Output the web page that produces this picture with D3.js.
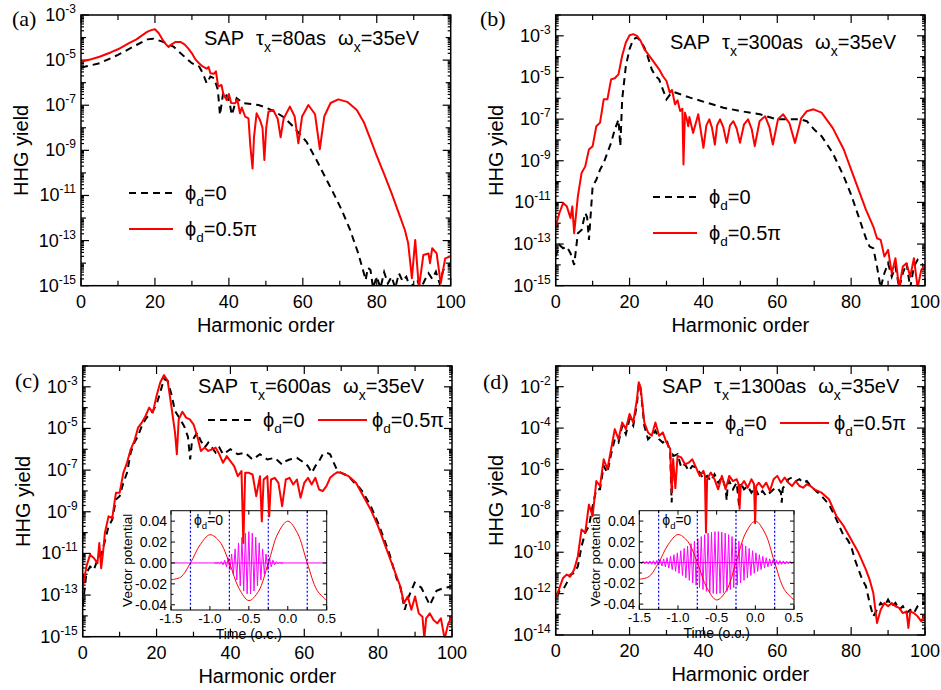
<!DOCTYPE html>
<html>
<head>
<meta charset="utf-8">
<script src="https://cdn.jsdelivr.net/npm/d3@7"></script>
<style>
  body { margin: 0; background: #fff; }
  text { font-family: "Liberation Sans", Arial, sans-serif; fill: #000; }
</style>
</head>
<body>
<script>
// HHG spectra, values are [harmonic order, log10(yield)]
const redA = [[0,-5.07],[3,-4.95],[5,-4.85],[8,-4.66],[10,-4.52],[13,-4.25],[15,-4.08],[17,-3.85],[18,-3.74],[19,-3.67],[20,-3.63],[21,-3.8],[22,-4.08],[23,-4.3],[23.7,-4.42],[24.5,-4.3],[25.5,-4.2],[27,-4.2],[28,-4.3],[29,-4.48],[30,-4.7],[31,-4.98],[32,-5.15],[33,-5.29],[34,-5.38],[34.5,-5.3],[35,-5.58],[36,-5.6],[36.5,-5.5],[37.1,-6.18],[38,-6.1],[38.5,-6.5],[39.4,-6.77],[40,-6.5],[40.6,-6.9],[41.7,-6.91],[42.3,-6.75],[43,-7.36],[43.5,-7.1],[44.4,-7.5],[45.3,-7.58],[45.8,-8.8],[46.4,-9.8],[46.8,-8.4],[47.5,-7.36],[48.4,-7.65],[49.1,-8.0],[49.6,-9.43],[50.1,-8.0],[50.7,-7.29],[52,-7.21],[53.2,-7.6],[54,-8.42],[54.8,-7.6],[56.5,-7.06],[57.8,-7.5],[58.8,-8.69],[59.8,-7.5],[61.5,-6.99],[63.3,-7.4],[64.6,-8.95],[65.8,-7.5],[67.5,-6.9],[69.6,-6.74],[72,-6.85],[74.6,-7.21],[76.5,-7.75],[78.2,-8.47],[80,-9.25],[82,-10.05],[84,-10.9],[86.3,-11.94],[87.6,-12.53],[88.5,-13.12],[89.5,-14.67],[90.4,-12.97],[91.4,-15.1],[92.6,-13.64],[94,-13.57],[94.4,-14.0],[95,-13.34],[96.2,-13.57],[97.3,-14.9],[98.5,-13.79],[100,-13.7]];
const blackA = [[0,-5.33],[5,-5.14],[10,-4.77],[15,-4.33],[18,-4.08],[19.5,-4.05],[22,-4.18],[25,-4.4],[28,-4.85],[30,-5.14],[32,-5.29],[33,-5.6],[34,-6.03],[35,-5.73],[36,-5.8],[37,-6.3],[37.6,-7.43],[38.5,-6.4],[39.5,-6.6],[40.2,-6.9],[40.8,-7.43],[42.1,-6.69],[43.9,-6.91],[46,-6.95],[48,-6.99],[50,-7.1],[52.5,-7.29],[55,-7.55],[57.4,-7.95],[59,-8.25],[61,-8.62],[63.7,-9.43],[66,-10.17],[68.3,-10.9],[70.5,-11.64],[72.8,-12.53],[75,-13.57],[76.4,-14.38],[77,-14.75],[77.6,-14.2],[78.3,-14.3],[79,-15.1],[80,-14.6],[81,-15.1],[82,-14.4],[83,-14.9],[84,-14.6],[85,-15.1],[86,-14.45],[87,-14.8],[88,-14.6],[89,-15.1],[90,-14.9],[91,-14.8],[92,-15.1],[93,-14.75],[94,-14.45],[95,-14.7],[96,-14.38],[97,-14.9],[98,-14.3],[99,-14.2],[100,-14.0]];

const redB = [[0,-12.16],[1,-11.51],[2,-11.03],[3,-11.19],[4,-11.75],[4.5,-11.19],[5,-12.48],[6,-10.71],[7,-9.59],[8,-9.27],[9,-8.46],[10,-8.3],[11,-7.34],[12,-7.18],[13,-6.05],[14,-6.05],[15,-5.09],[16,-5.04],[17,-4.85],[18,-3.96],[19,-3.32],[20,-2.97],[21,-2.92],[22,-3.0],[23,-3.24],[24,-3.64],[26,-4.12],[28,-4.61],[29,-4.93],[30,-5.17],[30.9,-5.73],[31.5,-5.6],[32.3,-6.29],[33,-6.1],[33.7,-6.61],[34.3,-6.5],[34.6,-9.18],[35,-6.69],[35.5,-7.0],[35.9,-7.34],[36.2,-6.9],[37.2,-7.66],[38.6,-6.77],[40,-8.38],[40.8,-7.3],[41.6,-7.01],[42.3,-7.4],[43.1,-8.22],[43.7,-7.3],[44.5,-7.01],[45.4,-7.4],[46.3,-8.14],[47.2,-7.3],[48.1,-7.1],[49,-7.45],[49.9,-8.14],[51,-7.25],[52.1,-7.01],[53.1,-7.5],[53.9,-8.3],[55.2,-7.1],[56.7,-6.86],[57.9,-7.4],[58.8,-8.22],[60.2,-7.0],[61.6,-6.77],[63.3,-7.2],[64.8,-8.14],[66.5,-6.95],[68,-6.62],[69.8,-6.53],[72,-6.69],[75,-7.42],[78,-8.46],[80,-9.43],[82,-10.39],[84,-11.35],[86,-12.16],[87,-12.72],[88,-12.8],[89,-13.6],[90,-13.28],[91,-14.4],[92,-13.68],[93,-15.1],[94,-14.08],[95,-13.92],[96,-14.57],[97,-13.68],[98,-15.1],[99,-14.24],[100,-14.0]];
const blackB = [[0,-13.6],[1,-13.04],[2,-13.2],[3,-13.12],[4,-13.44],[5,-14.0],[6,-12.48],[7,-12.32],[8,-11.51],[8.5,-11.7],[9,-12.8],[10,-10.23],[11,-9.91],[12,-9.43],[13,-9.1],[14,-8.62],[15,-8.14],[16,-7.5],[17,-7.02],[17.5,-8.3],[18,-6.05],[19,-4.45],[20,-3.64],[21,-3.16],[22,-3.08],[23,-3.24],[24,-3.56],[25,-4.04],[26,-4.61],[27,-4.93],[28,-5.09],[29,-5.57],[30,-6.05],[31,-5.81],[32,-5.7],[36.4,-5.97],[40.9,-6.21],[45.4,-6.45],[49.9,-6.61],[55.3,-6.77],[59.8,-7.01],[64.3,-7.01],[66,-7.0],[68,-7.1],[70,-7.5],[72,-7.82],[75,-8.62],[78,-9.75],[80,-10.63],[82,-11.67],[84,-12.72],[85,-13.12],[86,-13.2],[87,-14.08],[88,-15.1],[89,-14.4],[90,-13.92],[91,-14.57],[92,-14.08],[93,-15.1],[94,-14.4],[95,-13.92],[96,-15.1],[97,-14.08],[98,-13.76],[99,-13.92],[100,-14.08]];

const redC = [[0,-12.67],[1,-11.63],[2,-11.06],[3,-11.22],[4,-11.47],[4.5,-10.5],[5,-11.71],[5.5,-10.98],[6,-10.02],[7,-9.22],[8,-9.3],[9,-8.09],[10,-8.09],[11,-7.13],[12,-6.65],[13,-6.0],[14,-5.6],[15,-4.96],[16,-4.72],[17,-4.4],[18,-4.0],[19,-4.24],[20,-3.43],[21,-2.79],[22,-2.44],[23,-2.71],[24,-3.92],[25,-5.2],[25.5,-6.24],[26,-4.56],[27,-4.2],[28,-4.48],[29,-4.56],[30,-4.8],[31,-5.36],[32,-6.08],[33,-5.92],[34,-6.08],[35,-6.0],[36,-5.92],[37,-6.24],[38,-6.65],[39,-6.33],[40,-6.57],[41,-6.81],[42,-7.29],[43,-7.05],[43.5,-10.5],[44,-7.13],[45,-7.13],[46,-7.21],[47,-8.25],[48,-7.29],[48.5,-9.46],[49,-7.45],[50,-7.29],[50.5,-9.22],[51,-7.45],[52,-7.37],[53,-7.61],[54,-8.73],[55,-7.45],[56,-7.37],[57,-7.69],[58,-7.45],[59,-8.33],[60,-7.61],[61,-7.37],[62,-7.69],[63,-7.37],[64,-7.93],[65,-8.01],[66,-7.77],[67,-7.37],[68,-7.21],[69,-7.1],[70,-7.13],[71,-7.21],[72,-7.29],[74,-7.61],[76,-8.25],[78,-8.9],[80,-9.7],[82,-10.66],[84,-11.63],[85,-12.1],[86,-12.59],[87,-13.39],[88,-13.07],[89,-13.71],[90,-13.07],[91,-13.88],[92,-14.04],[92.5,-15.1],[93,-14.12],[94,-13.88],[95,-14.2],[96,-14.36],[97,-14.12],[98,-15.1],[99,-14.36],[100,-14.04]];
const blackC = [[0,-13.55],[1,-11.95],[2,-11.63],[3,-11.79],[4,-11.31],[5,-11.06],[6,-10.42],[7,-9.7],[8,-9.38],[9,-8.41],[10,-8.25],[11,-7.61],[12,-7.13],[13,-6.16],[14,-5.68],[15,-5.36],[16,-4.88],[17,-4.56],[18,-4.32],[19,-4.16],[20,-3.84],[21,-3.27],[22,-2.63],[23,-2.71],[24,-3.35],[25,-4.16],[26.4,-4.56],[27.5,-4.9],[28.5,-5.4],[29.1,-6.48],[29.6,-5.6],[31,-5.2],[32,-5.6],[33,-5.92],[34,-5.68],[35,-5.92],[36,-6.16],[37,-5.92],[38,-6.24],[40,-6.0],[42,-6.24],[44,-6.16],[46,-6.49],[48,-6.24],[50,-6.49],[52,-6.41],[54,-6.73],[55,-6.57],[56,-6.49],[58,-6.41],[60,-6.65],[61,-6.81],[62,-7.13],[63,-6.81],[64,-6.57],[65,-6.24],[66,-6.16],[67,-6.24],[68,-6.65],[69,-7.05],[70,-7.13],[72,-7.29],[74,-7.69],[75,-7.85],[76,-8.09],[78,-8.73],[80,-9.54],[82,-10.5],[83,-10.98],[84,-11.6],[85,-12.2],[86,-12.6],[87.2,-13.71],[88,-13.2],[89.9,-12.4],[91.7,-12.65],[94,-13.48],[95.8,-12.8],[97.6,-12.67],[100,-12.59]];

const redD = [[0,-12.21],[1,-11.73],[2,-11.24],[3,-11.08],[4,-11.16],[5,-10.84],[6,-10.19],[7,-8.9],[8,-9.06],[9,-7.69],[10,-8.25],[11,-6.56],[12,-6.8],[13,-5.51],[14,-5.99],[15,-5.02],[16,-4.05],[17,-4.54],[18,-3.73],[19,-4.05],[20,-3.32],[21,-3.73],[22,-2.6],[22.5,-1.79],[23,-2.03],[24,-3.73],[25,-4.21],[26,-4.37],[27,-3.73],[28,-4.37],[29,-4.21],[30,-4.7],[31,-5.0],[31.4,-7.1],[31.8,-5.5],[32.4,-6.9],[33,-5.34],[34,-5.42],[35,-5.75],[36,-5.67],[37,-5.51],[38,-5.91],[39,-6.31],[40,-6.07],[40.4,-6.3],[40.7,-9.05],[41,-6.47],[42,-6.15],[43,-6.47],[44,-6.96],[45,-6.31],[46,-6.96],[47,-6.31],[48,-6.56],[49,-6.47],[49.5,-6.7],[49.8,-7.9],[50.1,-6.8],[51,-6.56],[52,-6.88],[53,-6.47],[53.7,-6.7],[54,-8.6],[54.3,-6.8],[55,-6.64],[56,-6.88],[57,-6.64],[58,-7.04],[59,-6.47],[60,-6.31],[61,-6.64],[62,-6.39],[63,-6.64],[64,-6.8],[65,-6.56],[66,-6.8],[67,-6.88],[68,-6.72],[69,-6.8],[70,-6.96],[72,-7.12],[74,-7.44],[76,-8.25],[78,-8.74],[80,-9.38],[82,-10.03],[84,-10.84],[85,-11.32],[86,-11.97],[87,-13.42],[88,-12.78],[89,-12.45],[90,-12.61],[91,-12.45],[92,-12.61],[93,-12.69],[94,-12.94],[95,-12.86],[95.5,-13.66],[96,-12.86],[97,-12.94],[98,-13.1],[99,-13.34],[100,-13.02]];
const blackD = [[0,-12.13],[1,-11.89],[2,-11.81],[3,-11.48],[4,-11.08],[5,-11.0],[6,-10.68],[7,-9.71],[8,-9.06],[9,-8.74],[10,-7.77],[11,-6.96],[12,-6.96],[13,-5.83],[14,-6.15],[15,-5.26],[16,-4.54],[17,-4.7],[18,-3.89],[19,-4.29],[20,-3.57],[21,-3.89],[22,-2.84],[22.5,-1.87],[23,-2.11],[24,-3.89],[25,-4.54],[26,-4.37],[27,-4.13],[28,-4.54],[29,-4.7],[30,-4.54],[31,-5.18],[31.4,-7.6],[31.8,-5.3],[32,-5.34],[33,-5.26],[34,-5.91],[35,-5.75],[36,-6.07],[37,-5.83],[38,-5.91],[39,-6.15],[40,-6.47],[41,-6.31],[42,-6.56],[43,-6.23],[44,-6.64],[45,-6.39],[46,-6.88],[46.3,-7.5],[46.6,-6.7],[47,-6.56],[48,-6.96],[49,-6.64],[49.7,-7.8],[50,-6.64],[51,-6.96],[52,-6.8],[53,-7.12],[54,-6.88],[55,-7.28],[56,-7.04],[57,-7.28],[58,-7.12],[59,-6.96],[60,-6.88],[61,-7.12],[61.2,-7.6],[61.5,-6.9],[62,-6.8],[63,-6.47],[64,-6.39],[65,-6.56],[66,-6.47],[67,-6.64],[68,-6.56],[69,-6.8],[70,-6.96],[71,-7.12],[72,-7.28],[74,-7.69],[76,-8.41],[78,-9.22],[79,-9.38],[80,-9.71],[81,-10.35],[82,-10.84],[83,-11.32],[84,-11.64],[85,-12.45],[86,-13.1],[87,-12.78],[88,-12.45],[89,-12.61],[90,-12.29],[91,-12.61],[92,-12.45],[93,-12.78],[94,-12.61],[95,-12.94],[96,-12.78],[97,-12.94],[98,-12.61],[99,-12.45],[100,-12.45]];

// inset: IR vector potential (o.c., a.u.)
const irTime = [-1.5,-1.375,-1.25,-1.125,-1.0,-0.875,-0.75,-0.625,-0.5,-0.375,-0.25,-0.125,0,0.125,0.25,0.375,0.5];
const irA = [-0.016,-0.0135,0,0.0175,0.027,0.0205,0,-0.0245,-0.036,-0.027,0,0.0285,0.040,0.0285,0,-0.026,-0.036];
const zeroCross = [-1.25,-0.75,-0.25,0.25];

// inset: XUV pulse, amplitude of each half-cycle extremum
const xuvHalfPeriod = 0.0221;
const xuvStartC = -0.942;
const xuvAmpC = [0.0002,0.0003,0.0005,0.0008,0.0012,0.0018,0.0026,0.0037,0.005,0.0067,0.0086,0.011,0.0135,0.0163,0.0192,0.022,0.0246,0.0268,0.0285,0.0296,0.03,0.0296,0.0285,0.0268,0.0246,0.022,0.0192,0.0163,0.0135,0.011,0.0086,0.0067,0.005,0.0037,0.0026,0.0018,0.0012,0.0008,0.0005,0.0003,0.0002];
const xuvStartD = -1.4945;
const xuvAmpD = [0.001,0.0011,0.0012,0.0013,0.0014,0.0015,0.0016,0.0017,0.0018,0.0019,0.0021,0.0024,0.0027,0.0032,0.0036,0.0041,0.0047,0.0053,0.006,0.0068,0.0076,0.0084,0.0094,0.0103,0.0114,0.0124,0.0136,0.0147,0.0159,0.0171,0.0183,0.0195,0.0207,0.0218,0.023,0.0241,0.0251,0.026,0.0269,0.0277,0.0284,0.029,0.0294,0.0297,0.0299,0.03,0.0299,0.0297,0.0294,0.029,0.0284,0.0277,0.0269,0.026,0.0251,0.0241,0.023,0.0218,0.0207,0.0195,0.0183,0.0171,0.0159,0.0147,0.0136,0.0124,0.0114,0.0103,0.0094,0.0084,0.0076,0.0068,0.006,0.0053,0.0047,0.0041,0.0036,0.0032,0.0027,0.0024,0.0021,0.0019,0.0018,0.0017,0.0016,0.0015,0.0014,0.0013,0.0012,0.0011,0.001];

const harmTicks = [0, 20, 40, 60, 80, 100];
const harmMinor = [10, 30, 50, 70, 90];
const timeTicks = [-1.5, -1.0, -0.5, 0.0, 0.5];
const timeMinor = [-1.25, -0.75, -0.25, 0.25];
const aTicks = [0.04, 0.02, 0.00, -0.02, -0.04];
const aMinor = [0.03, 0.01, -0.01, -0.03];

const panels = [
    {key: 'a', red: redA, black: blackA, decades: [-15, -3], tau: '80',
     box: {l: 81, r: 450.7, t: 15, b: 285.7}, tag: [12, 26], anno: [204, 45],
     legend: {kind: 'col', x: 129, y: 193}},
    {key: 'b', red: redB, black: blackB, decades: [-15, -2], tau: '300',
     box: {l: 555.7, r: 925, t: 15, b: 285.7}, tag: [480, 26], anno: [670, 49],
     legend: {kind: 'col', x: 653, y: 197}},
    {key: 'c', red: redC, black: blackC, decades: [-15, -2], tau: '600',
     box: {l: 82.7, r: 452, t: 366, b: 636.7}, tag: [15, 388], anno: [198, 393],
     legend: {kind: 'row', x: 208, x2: 318, y: 420},
     inset: {l: 171, r: 326.7, t: 510.7, b: 610, amp: xuvAmpC, start: xuvStartC}},
    {key: 'd', red: redD, black: blackD, decades: [-14, -1], tau: '1300',
     box: {l: 555.7, r: 925, t: 366, b: 635}, tag: [483, 389], anno: [662, 393],
     legend: {kind: 'row', x: 670, x2: 780, y: 423},
     inset: {l: 639.3, r: 794, t: 510.7, b: 609.3, amp: xuvAmpD, start: xuvStartD}}
];

const PHI = '\u03d5';

const svg = d3.select('body').append('svg')
    .attr('width', 941)
    .attr('height', 690);

// phi_d = value, written with a subscript d
function phiLabel(sel, value, size) {
    const t = sel.append('text').attr('font-size', size);
    t.append('tspan').text(PHI);
    t.append('tspan').attr('dy', size * 0.3).attr('font-size', size * 0.68).text('d');
    t.append('tspan').attr('dy', -size * 0.3).text('=' + value);
    return t;
}

function drawInset(g, ins, key) {
    const x = d3.scaleLinear().domain([-1.5, 0.5]).range([ins.l, ins.r]);
    const y = d3.scaleLinear().domain([-0.045, 0.05]).range([ins.b, ins.t]);

    const cid = 'clipInset' + key;
    g.append('clipPath').attr('id', cid)
        .append('rect').attr('x', ins.l).attr('y', ins.t)
        .attr('width', ins.r - ins.l).attr('height', ins.b - ins.t);
    const plot = g.append('g').attr('clip-path', `url(#${cid})`);

    // zero line + xuv pulse
    plot.append('line')
        .attr('x1', ins.l).attr('x2', ins.r)
        .attr('y1', y(0)).attr('y2', y(0))
        .attr('stroke', '#ff00ff').attr('stroke-width', 1);

    const xuvPts = ins.amp.map((a, i) => [ins.start + i * xuvHalfPeriod, i % 2 === 0 ? a : -a]);
    plot.append('path')
        .datum(xuvPts)
        .attr('fill', 'none')
        .attr('stroke', '#ff00ff')
        .attr('stroke-width', 1)
        .attr('d', d3.line().x(d => x(d[0])).y(d => y(d[1])));

    // IR vector potential
    plot.append('path')
        .datum(irTime.map((t, i) => [t, irA[i]]))
        .attr('fill', 'none')
        .attr('stroke', '#ff0000')
        .attr('stroke-width', 1)
        .attr('d', d3.line().curve(d3.curveCatmullRom).x(d => x(d[0])).y(d => y(d[1])));

    g.selectAll(null)
        .data(zeroCross)
        .enter().append('line')
        .attr('x1', d => x(d)).attr('x2', d => x(d))
        .attr('y1', ins.t).attr('y2', ins.b)
        .attr('stroke', '#0000ff')
        .attr('stroke-width', 1.2)
        .attr('stroke-dasharray', '2,2');

    // frame and ticks
    g.append('rect')
        .attr('x', ins.l).attr('y', ins.t)
        .attr('width', ins.r - ins.l).attr('height', ins.b - ins.t)
        .attr('fill', 'none').attr('stroke', '#000').attr('stroke-width', 1);

    const tk = g.append('g').attr('stroke', '#000').attr('stroke-width', 1);
    timeTicks.concat(timeMinor).forEach((t, i) => {
        const len = i < timeTicks.length ? 4 : 2.5;
        tk.append('line').attr('x1', x(t)).attr('x2', x(t)).attr('y1', ins.b).attr('y2', ins.b - len);
        tk.append('line').attr('x1', x(t)).attr('x2', x(t)).attr('y1', ins.t).attr('y2', ins.t + len);
    });
    aTicks.concat(aMinor).forEach((a, i) => {
        const len = i < aTicks.length ? 4 : 2.5;
        tk.append('line').attr('x1', ins.l).attr('x2', ins.l + len).attr('y1', y(a)).attr('y2', y(a));
        tk.append('line').attr('x1', ins.r).attr('x2', ins.r - len).attr('y1', y(a)).attr('y2', y(a));
    });

    g.selectAll(null)
        .data(timeTicks)
        .enter().append('text')
        .attr('x', d => x(d)).attr('y', ins.b + 13)
        .attr('text-anchor', 'middle')
        .attr('font-size', 13.5)
        .text(d => d3.format('.1f')(d).replace('\u2212', '-'));

    g.selectAll(null)
        .data(aTicks)
        .enter().append('text')
        .attr('x', ins.l - 4).attr('y', d => y(d) + 5)
        .attr('text-anchor', 'end')
        .attr('font-size', 14)
        .text(d => d3.format('.2f')(d).replace('\u2212', '-'));

    g.append('text')
        .attr('x', (ins.l + ins.r) / 2).attr('y', ins.b + 28.5)
        .attr('text-anchor', 'middle')
        .attr('font-size', 14)
        .text('Time (o.c.)');

    g.append('text')
        .attr('transform', `translate(${ins.l - 39},${(ins.t + ins.b) / 2}) rotate(-90)`)
        .attr('text-anchor', 'middle')
        .attr('font-size', 13.5)
        .text('Vector potential');

    phiLabel(g, '0', 14).attr('x', ins.l + 23).attr('y', ins.t + 14);
}

function drawPanel(p) {
    const b = p.box;
    const g = svg.append('g');
    const x = d3.scaleLinear().domain([0, 100]).range([b.l, b.r]);
    const y = d3.scaleLog()
        .domain([Math.pow(10, p.decades[0]), Math.pow(10, p.decades[1])])
        .range([b.b, b.t]);

    // ticks, all pointing inward
    const tk = g.append('g').attr('stroke', '#000').attr('stroke-width', 1.2);
    harmTicks.concat(harmMinor).forEach((h, i) => {
        const len = i < harmTicks.length ? 8 : 5;
        tk.append('line').attr('x1', x(h)).attr('x2', x(h)).attr('y1', b.b).attr('y2', b.b - len);
        tk.append('line').attr('x1', x(h)).attr('x2', x(h)).attr('y1', b.t).attr('y2', b.t + len);
    });
    for (let e = p.decades[0]; e <= p.decades[1]; e++) {
        const major = (e - p.decades[0]) % 2 === 0;
        const len = major ? 8 : 5;
        const yy = y(Math.pow(10, e));
        tk.append('line').attr('x1', b.l).attr('x2', b.l + len).attr('y1', yy).attr('y2', yy);
        tk.append('line').attr('x1', b.r).attr('x2', b.r - len).attr('y1', yy).attr('y2', yy);
        if (e < p.decades[1]) {
            for (let m = 2; m <= 9; m++) {
                const ym = y(m * Math.pow(10, e));
                tk.append('line').attr('x1', b.l).attr('x2', b.l + 3).attr('y1', ym).attr('y2', ym);
                tk.append('line').attr('x1', b.r).attr('x2', b.r - 3).attr('y1', ym).attr('y2', ym);
            }
        }
        if (major) {
            const t = g.append('text')
                .attr('x', b.l - 5).attr('y', yy + 6)
                .attr('text-anchor', 'end')
                .attr('font-size', 18)
                .text('10');
            t.append('tspan').attr('dy', -8).attr('font-size', 12).text(String(e));
        }
    }

    g.selectAll(null)
        .data(harmTicks)
        .enter().append('text')
        .attr('x', d => x(d)).attr('y', b.b + 22)
        .attr('text-anchor', 'middle')
        .attr('font-size', 18)
        .text(d => d);

    g.append('text')
        .attr('x', (b.l + b.r) / 2).attr('y', b.b + 46)
        .attr('text-anchor', 'middle')
        .attr('font-size', 20)
        .text('Harmonic order');

    g.append('text')
        .attr('transform', `translate(${b.l - 53},${(b.t + b.b) / 2}) rotate(-90)`)
        .attr('text-anchor', 'middle')
        .attr('font-size', 20)
        .text('HHG yield');

    g.append('text')
        .attr('x', p.tag[0]).attr('y', p.tag[1])
        .attr('font-size', 22)
        .style('font-family', '"Liberation Serif", "Times New Roman", serif')
        .text('(' + p.key + ')');

    if (p.inset) drawInset(g, p.inset, p.key);

    // spectra
    g.append('clipPath').attr('id', 'clip' + p.key)
        .append('rect').attr('x', b.l).attr('y', b.t)
        .attr('width', b.r - b.l).attr('height', b.b - b.t);
    const plot = g.append('g').attr('clip-path', `url(#clip${p.key})`);
    const line = d3.line()
        .x(d => x(d[0]))
        .y(d => y(Math.pow(10, d[1])));

    plot.append('path')
        .datum(p.black)
        .attr('fill', 'none')
        .attr('stroke', '#000')
        .attr('stroke-width', 2)
        .attr('stroke-dasharray', '7,5')
        .attr('d', line);

    plot.append('path')
        .datum(p.red)
        .attr('fill', 'none')
        .attr('stroke', '#ff0000')
        .attr('stroke-width', 2)
        .attr('stroke-linejoin', 'round')
        .attr('d', line);

    g.append('rect')
        .attr('x', b.l).attr('y', b.t)
        .attr('width', b.r - b.l).attr('height', b.b - b.t)
        .attr('fill', 'none').attr('stroke', '#000').attr('stroke-width', 1.5);

    // SAP annotation
    const an = g.append('text')
        .attr('x', p.anno[0]).attr('y', p.anno[1])
        .attr('font-size', 20);
    an.append('tspan').text('SAP');
    an.append('tspan').attr('dx', 12).text('\u03c4');
    an.append('tspan').attr('dy', 7).attr('font-size', 14).text('x');
    an.append('tspan').attr('dy', -7).text('=' + p.tau + 'as');
    an.append('tspan').attr('dx', 12).text('\u03c9');
    an.append('tspan').attr('dy', 7).attr('font-size', 14).text('x');
    an.append('tspan').attr('dy', -7).text('=35eV');

    // legend
    const lg = p.legend;
    if (lg.kind === 'col') {
        g.append('line').attr('x1', lg.x).attr('x2', lg.x + 44).attr('y1', lg.y).attr('y2', lg.y)
            .attr('stroke', '#000').attr('stroke-width', 2).attr('stroke-dasharray', '7,5');
        phiLabel(g, '0', 20).attr('x', lg.x + 56).attr('y', lg.y + 7);
        g.append('line').attr('x1', lg.x).attr('x2', lg.x + 44).attr('y1', lg.y + 36).attr('y2', lg.y + 36)
            .attr('stroke', '#ff0000').attr('stroke-width', 2);
        phiLabel(g, '0.5\u03c0', 20).attr('x', lg.x + 56).attr('y', lg.y + 43);
    } else {
        g.append('line').attr('x1', lg.x).attr('x2', lg.x + 45).attr('y1', lg.y).attr('y2', lg.y)
            .attr('stroke', '#000').attr('stroke-width', 2).attr('stroke-dasharray', '7,5');
        phiLabel(g, '0', 20).attr('x', lg.x + 55).attr('y', lg.y + 7);
        g.append('line').attr('x1', lg.x2).attr('x2', lg.x2 + 49).attr('y1', lg.y).attr('y2', lg.y)
            .attr('stroke', '#ff0000').attr('stroke-width', 2);
        phiLabel(g, '0.5\u03c0', 20).attr('x', lg.x2 + 54).attr('y', lg.y + 7);
    }
}

panels.forEach(drawPanel);
</script>
</body>
</html>
